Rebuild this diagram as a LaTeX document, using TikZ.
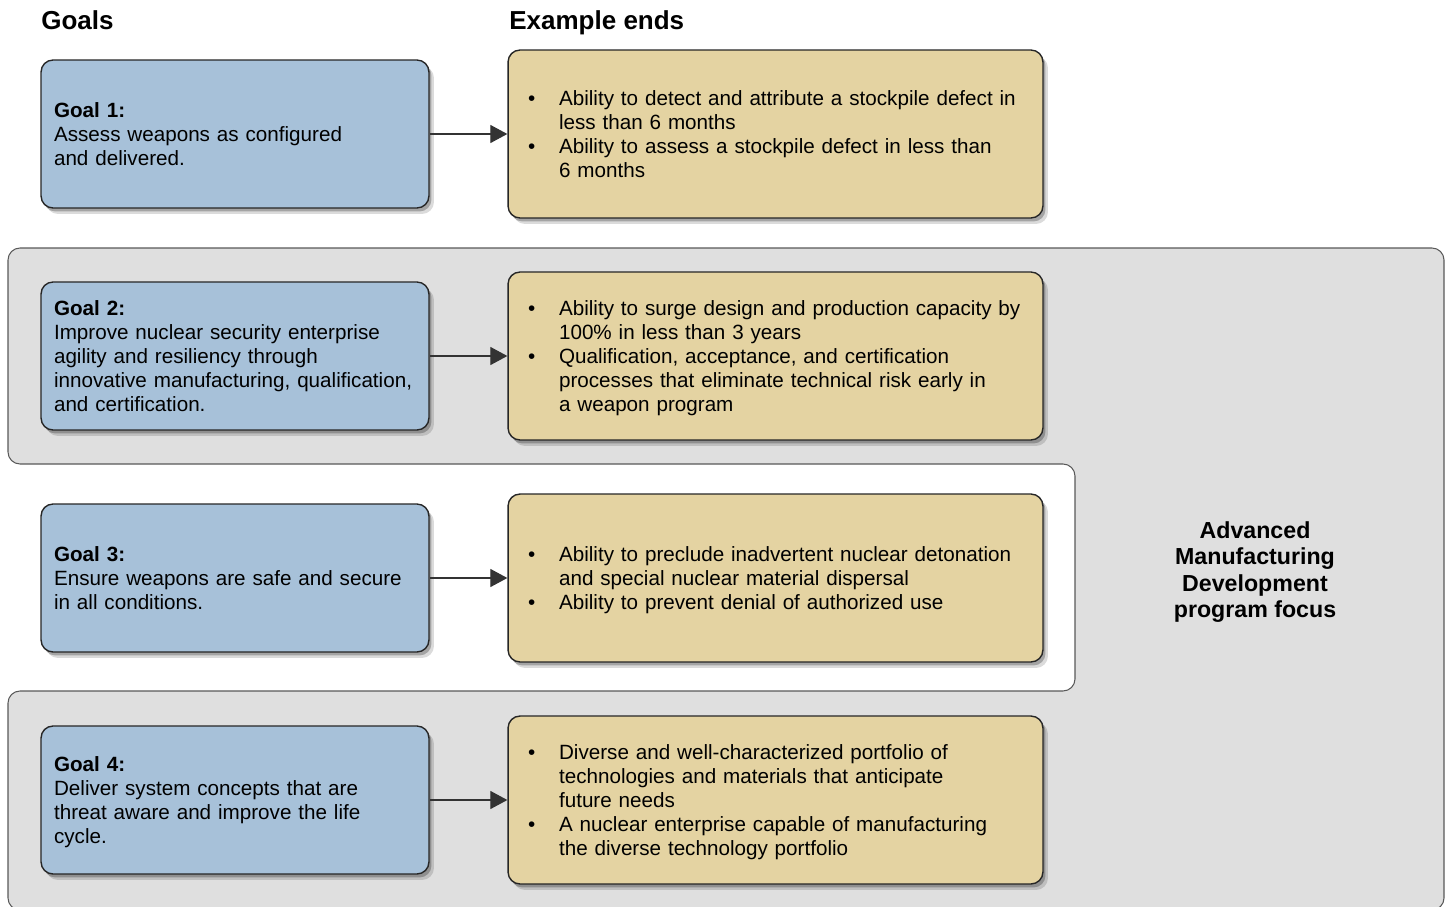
\documentclass[tikz,border=0pt]{standalone}
\usepackage{fontspec}
\setmainfont{Liberation Sans}
\usetikzlibrary{arrows.meta,shadows}
\definecolor{goalblue}{HTML}{A7C1D9}
\definecolor{endtan}{HTML}{E4D3A2}
\definecolor{focusgray}{HTML}{DFDFDF}
\newcommand\boxfont{\fontsize{11.75pt}{13.6pt}\selectfont}
\newcommand\bul{\makebox[0.62cm][l]{\textbullet}}
\newcommand\lowered[1]{\raisebox{-0.06cm}[\height][\depth]{#1}}

\begin{document}
\begin{tikzpicture}[x=0.02cm, y=-0.02cm,
  every node/.style={font=\boxfont},
  softshadow/.style={drop shadow={shadow xshift=0.05cm, shadow yshift=-0.07cm, opacity=0.25, fill=black},
                     drop shadow={shadow xshift=0.1cm, shadow yshift=-0.12cm, opacity=0.14, fill=black}},
  goalbox/.style={draw=black!85, line width=0.8pt, fill=goalblue, rounded corners=0.24cm,
                  minimum width=7.76cm, minimum height=2.96cm, text width=7.24cm,
                  inner xsep=0.26cm, align=left, softshadow},
  endbox/.style={draw=black!85, line width=0.8pt, fill=endtan, rounded corners=0.24cm,
                 minimum width=10.7cm, minimum height=3.36cm, text width=9.9cm,
                 inner xsep=0.4cm, align=left, softshadow},
  header/.style={font=\fontsize{14.8pt}{17pt}\selectfont\bfseries, inner sep=0pt},
  arrow/.style={-{Triangle[length=0.34cm,width=0.36cm]}, line width=0.7pt, black!80}]
  \useasboundingbox (0,0) rectangle (1450,906);
  \clip (0,0) rectangle (1450,906);

  % program focus area
  \draw[fill=focusgray, draw=black!65, line width=0.6pt, rounded corners=0.24cm]
    (500,248) -- (1444,248) -- (1444,910) -- (8,910) -- (8,691) -- (1075,691)
    -- (1075,464) -- (8,464) -- (8,248) -- cycle;
  \node[font=\fontsize{13.2pt}{14.95pt}\selectfont\bfseries, align=center] (focus) at (1255,572)
    {Advanced\\Manufacturing\\Development\\program focus};

  \node[header, anchor=base west] (goalshead) at (41,30) {Goals};
  \node[header, anchor=base west] (endshead) at (509,30) {Example ends};

  \foreach \n/\y/\goal/\ends in {
    1/134/{Assess weapons as configured\\and delivered.}/{\bul & Ability to detect and attribute a stockpile defect in\\ & less than 6 months\\ \bul & Ability to assess a stockpile defect in less than\\ & 6 months},
    2/356/{Improve nuclear security enterprise\\agility and resiliency through\\innovative manufacturing, qualification,\\and certification.}/{\bul & Ability to surge design and production capacity by\\ & 100\% in less than 3 years\\ \bul & Qualification, acceptance, and certification\\ & processes that eliminate technical risk early in\\ & a weapon program},
    3/578/{Ensure weapons are safe and secure\\in all conditions.}/{\bul & Ability to preclude inadvertent nuclear detonation\\ & and special nuclear material dispersal\\ \bul & Ability to prevent denial of authorized use},
    4/800/{Deliver system concepts that are\\threat aware and improve the life\\cycle.}/{\bul & Diverse and well-characterized portfolio of\\ & technologies and materials that anticipate\\ & future needs\\ \bul & A nuclear enterprise capable of manufacturing\\ & the diverse technology portfolio}} {
    \node[goalbox] (goal\n) at (235,\y)
      {\lowered{\begin{tabular}{@{}l@{}}\textbf{Goal \n:}\\\goal\end{tabular}}};
    \node[endbox] (ends\n) at (775.5,\y)
      {\lowered{\begin{tabular}{@{}l@{}l@{}}\ends\end{tabular}}};
    \draw[arrow] (goal\n) -- (ends\n);
  }
\end{tikzpicture}
\end{document}
